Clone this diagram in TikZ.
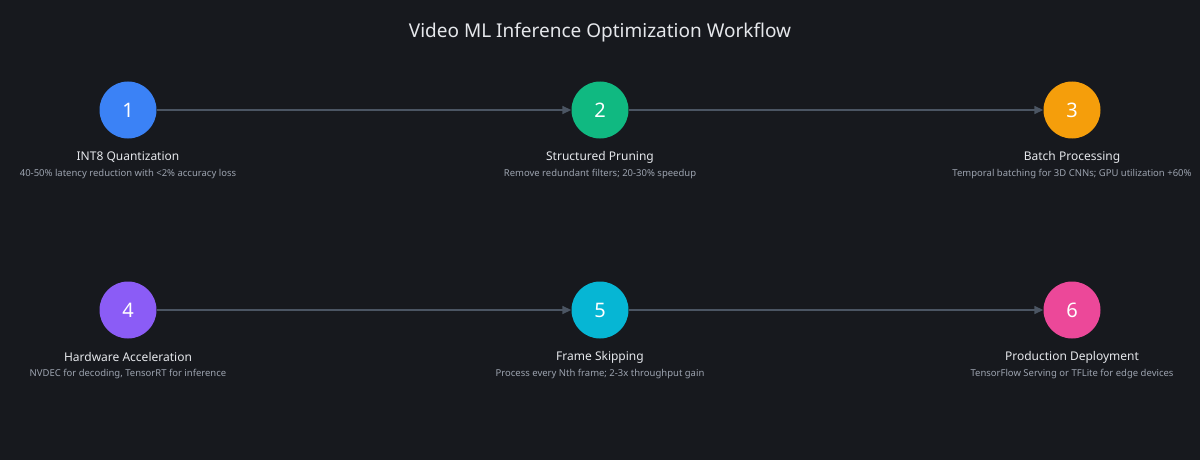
\documentclass[tikz,border=0pt]{standalone}
\usepackage{fontspec}
\setmainfont{Noto Sans}
\usetikzlibrary{arrows.meta}
\definecolor{bg}{HTML}{17191E}
\definecolor{ln}{HTML}{4B5563}
\definecolor{tx}{HTML}{E5E7EB}
\definecolor{sub}{HTML}{9CA3AF}
\definecolor{c1}{HTML}{3B82F6}
\definecolor{c2}{HTML}{10B981}
\definecolor{c3}{HTML}{F59E0B}
\definecolor{c4}{HTML}{8B5CF6}
\definecolor{c5}{HTML}{06B6D4}
\definecolor{c6}{HTML}{EC4899}
\tikzset{
 stepc/.style={circle,fill=#1,minimum size=57pt,inner sep=0pt,text=white,font=\fontsize{20}{24}\selectfont},
 lab/.style={text=tx,font=\fontsize{12}{14}\selectfont},
 sublab/.style={text=sub,font=\fontsize{9.5}{11}\selectfont},
 conn/.style={draw=ln,line width=1.5pt,-{Triangle[length=9pt,width=8pt]}}
}
\begin{document}
\begin{tikzpicture}[x=1pt,y=-1pt]
\useasboundingbox (0,0) rectangle (1200,460);
\clip (0,0) rectangle (1200,460);
\fill[bg] (0,0) rectangle (1200,460);
\node[text=tx,font=\fontsize{19}{22}\selectfont] (title) at (600,33) {Video ML Inference Optimization Workflow};
\node[stepc=c1] (n1) at (128,110) {1};
\node[stepc=c2] (n2) at (600,110) {2};
\node[stepc=c3] (n3) at (1072,110) {3};
\node[stepc=c4] (n4) at (128,310) {4};
\node[stepc=c5] (n5) at (600,310) {5};
\node[stepc=c6] (n6) at (1072,310) {6};
\draw[conn] (n1) -- (n2);
\draw[conn] (n2) -- (n3);
\draw[conn] (n4) -- (n5);
\draw[conn] (n5) -- (n6);
\node[lab] (l1) at (128,157) {INT8 Quantization};
\node[sublab] (s1) at (128,174) {40-50\% latency reduction with <2\% accuracy loss};
\node[lab] (l2) at (600,157) {Structured Pruning};
\node[sublab] (s2) at (600,174) {Remove redundant filters; 20-30\% speedup};
\node[lab] (l3) at (1072,157) {Batch Processing};
\node[sublab] (s3) at (1072,174) {Temporal batching for 3D CNNs; GPU utilization +60\%};
\node[lab] (l4) at (128,357) {Hardware Acceleration};
\node[sublab] (s4) at (128,374) {NVDEC for decoding, TensorRT for inference};
\node[lab] (l5) at (600,357) {Frame Skipping};
\node[sublab] (s5) at (600,374) {Process every Nth frame; 2-3x throughput gain};
\node[lab] (l6) at (1072,357) {Production Deployment};
\node[sublab] (s6) at (1072,374) {TensorFlow Serving or TFLite for edge devices};
\end{tikzpicture}
\end{document}
